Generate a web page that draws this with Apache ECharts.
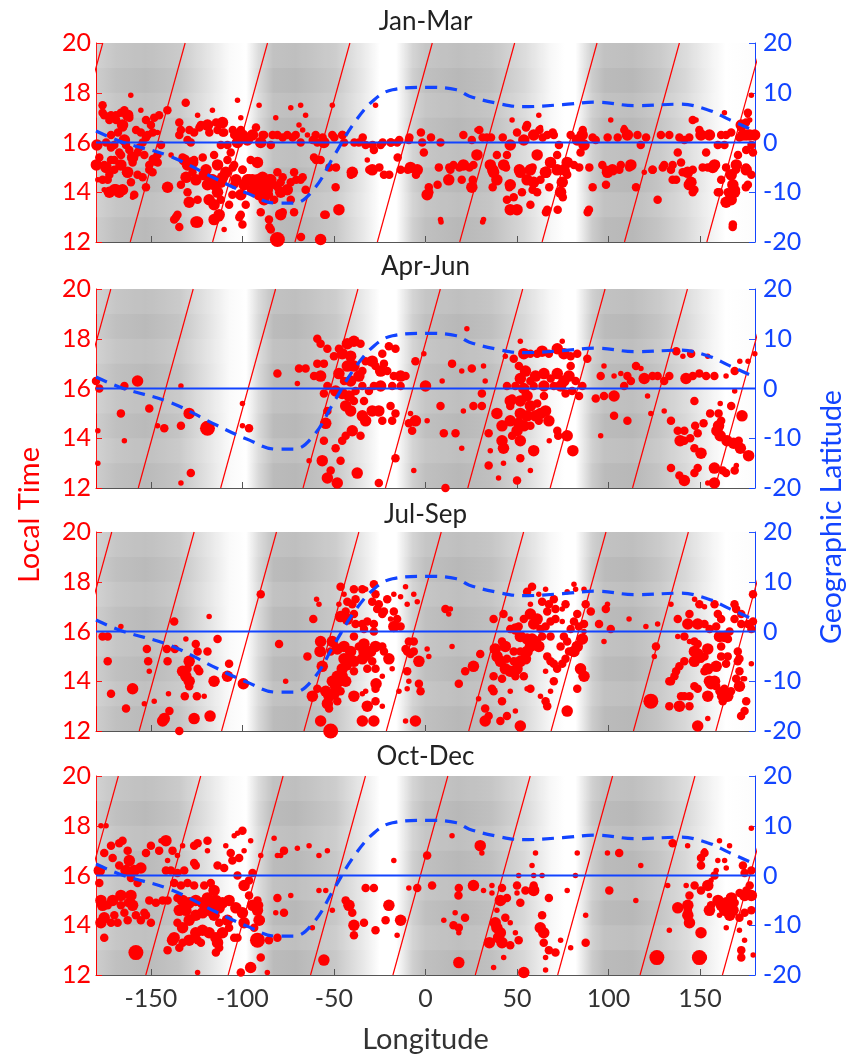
<!DOCTYPE html>
<html>
<head>
<meta charset="utf-8">
<title>Local time vs longitude</title>
<script src="https://cdn.jsdelivr.net/npm/echarts@6/dist/echarts.min.js"></script>
<style>
  html, body { margin: 0; padding: 0; background: #fff; }
  #chart { width: 848px; height: 1057px; }
</style>
</head>
<body>
<div id="chart"></div>
<script>
// ---- data ----
const panelNames = ['Jan-Mar', 'Apr-Jun', 'Jul-Sep', 'Oct-Dec']
const xTicks = [-150, -100, -50, 0, 50, 100, 150]

// magnetic dip equator, geographic latitude vs longitude
const dipLon = [-180, -165, -140, -114, -98, -81, -72, -61, -50, -39, -28, -18, 0, 17, 24, 39, 53, 75, 93, 115, 139, 154, 166, 180]
const dipLat = [2.3, 0, -2.7, -7.4, -10.1, -12.2, -12.2, -9.4, -2.7, 3.9, 8.6, 10.6, 11.1, 10.6, 9.3, 7.9, 7.2, 7.6, 8.1, 7.4, 7.7, 6.6, 4.6, 2.3]
const geoEquator = [[-180, 0], [180, 0]]

// slanted reference lines: longitude where each crosses 12 LT (per panel), spacing and shift at 20 LT
const lineBase = [-161.3, -156.9, -156.4, -152.8]
const lineStep = 45
const lineRise = 30

// background shading (gray level vs longitude)
const bgLon = [-180, -169, -153, -135, -120, -107, -98, -91, -83, -71, -49, -34, -25, -16, -7, 0, 18, 36, 54, 69, 76, 82, 91, 98, 113, 127, 142, 157, 164, 180]
const bgGray = [205, 192, 186, 196, 224, 250, 255, 216, 187, 184, 200, 232, 255, 255, 208, 192, 184, 192, 216, 248, 255, 255, 204, 187, 184, 196, 216, 244, 255, 252]
const hourBands = [[19, 20], [17, 18], [15, 16], [13, 14]]

// events: [longitude, local time, size class]
const janMar = [[-179.5,15.9,3],[-179.8,15.1,3],[-179,14.5,1],[-176.4,17.5,2],[-175.5,17.1,2],[-171.8,17.1,2],[-169,16.9,2],[-166.4,17.2,2],[-164.5,17.3,2],[-161,17.9,1],[-162.7,17.1,3],[-165.5,16.7,3],[-168,16.4,2],[-171.8,16.3,2],[-174.5,16,2],[-170,15.9,2],[-164.5,16.1,3],[-161.8,15.7,2],[-167.3,15.6,2],[-171.8,15.3,2],[-175.5,15.1,2],[-172.7,14.7,2],[-170,14.9,2],[-166.4,15.1,3],[-162.7,14.8,3],[-160,15.2,2],[-157.3,15.6,2],[-154.5,16,2],[-151.8,16.3,2],[-155.5,16.4,2],[-150,16.7,2],[-152.7,16.9,2],[-148.2,17,2],[-145.5,17.1,2],[-141,17.3,2],[-155.5,17.3,1],[-170,14.1,3],[-167.3,14,3],[-165.5,14.1,3],[-175.5,14.1,1],[-159.1,13.9,2],[-173.6,14.5,2],[-153.6,15.5,2],[-150.9,15.1,2],[-148.2,15.3,3],[-146.4,15.5,2],[-149.1,14.8,2],[-144.5,15.9,2],[-146.4,16.4,1],[-160.9,14.4,2],[-157.3,14.7,2],
  [-176.4,17.2,2],[-172.7,16.9,2],[-169.1,17.1,2],[-165.4,16.6,2],[-161.8,17,2],[-158.1,16.5,2],[-178.2,15.4,2],[-174.5,15,3],[-170,15.3,2],[-166.3,15.5,2],[-171.8,15.8,2],[-163.6,15.9,2],[-160,15.4,3],[-156.3,15.8,2],[-152.7,16.2,2],[-149,16.4,2],[-146.3,15.2,2],[-150.9,14.9,2],[-154.5,14.6,2],[-176.4,14.5,2],[-169.1,14.1,3],[-163.6,14.8,2],[-160,13.8,1],[-152.7,14.2,2],[-172.7,14,3],
  [-139,15.5,1],[-140.9,14.2,3],[-135.5,13.1,2],[-134.5,12.6,2],[-137.3,12.9,2],[-131,17.6,2],[-133.6,16.5,2],[-134.5,16.3,2],[-130,16.1,2],[-126.4,16.4,2],[-122.7,16.7,2],[-124.5,17.1,1],[-119.1,16.7,3],[-116.4,17.3,1],[-128.2,16,2],[-131.8,15.3,3],[-130,15.1,3],[-127.3,14.8,2],[-126.4,15.3,2],[-133.6,14.3,2],[-130,14,2],[-129.1,13.6,3],[-124.5,13.7,2],[-124.5,12.8,3],[-119.1,14.3,3],[-120.9,14.7,3],[-117.3,14.5,3],[-115.5,14.3,3],[-113.6,14,3],[-118.2,13.7,3],[-115.5,13.5,3],[-111.8,13.7,2],[-112.7,13.1,3],[-115.5,12.9,3],[-110,12.5,1],[-111.8,14.4,3],[-109.1,14.8,3],[-113.6,15.1,3],[-115.5,15.5,2],[-111.8,15.9,2],[-108.2,15.9,2],[-110,16.4,2],[-113.6,16.5,2],[-110.9,16.8,3],[-104.5,16.3,2],[-102.7,16,3],[-100,16.3,3],[-97.3,16.1,3],[-94.5,16.3,3],[-100.9,16.5,2],[-102.7,17.7,1],[-100.9,17,1],[-106.4,15.6,2],[-104.5,15.1,2],[-108.2,15.3,2],[-104.5,14.3,2],[-105.5,13.9,2],[-107.3,13.5,2],[-100.9,13.9,3],[-99.1,14.3,3],[-97.3,14.5,3],[-94.5,14.5,3],[-91.8,14.5,3],[-90,14.3,3],[-88.2,14.5,3],[-86.4,14.1,3],[-84.5,14.5,3],[-82.7,14.3,2],[-80.9,14.8,2],[-79.1,14.4,2],[-94.5,14.1,3],[-90.9,13.9,3],[-88.2,13.7,3],[-85.5,13.9,2],[-82.7,13.7,2],[-79.1,14,3],[-75.5,14.1,3],[-73.6,14.4,2],[-71.8,14.8,2],[-68.2,14.5,2],[-65.5,14.1,2],[-91.8,15.2,3],[-95.5,15.3,2],[-100,14.9,2],[-100.9,13.1,2],[-100,12.7,2],[-98.2,13.5,2],[-90,13.2,2],[-85.5,12.9,2],[-84.5,12.5,2],[-79.1,13.1,3],[-80.9,12.1,4],[-73.6,13.7,2],[-71.8,13.2,2],[-90.9,17.5,1],[-81.8,17,1],[-80.9,16.3,2],[-88.2,16.3,2],[-90,16,3],[-84.5,15.9,2],[-75.5,16.3,2],[-73.6,17.4,1],[-68.2,17.5,1],[-65.5,17.1,1],[-69.1,16.7,1],[-70.9,16.3,2],[-68.2,16,2],[-64.5,16.3,1],[-60,16.3,2],[-59.1,16,2],[-60.9,15.4,2],[-57.3,15.3,2],[-55.5,16,3],[-57.3,12.1,3],[-54.5,13.1,2],[-50.9,17.5,1],[-50.9,16.3,2],[-45.5,16.3,2],[-44.5,16,2],[-49.1,14.2,2],[-47.3,13.3,3],[-40,14.8,3],[-36.4,16,2],[-32.7,15.9,2],[-31.8,15.3,1],[-29.1,14.9,3],[-27.3,17.5,1],[-28.2,15.7,2],[-24.5,15.9,2],[-22.7,14.7,2],[-19.1,16,2],[-15.5,16,2],[-13.6,14.9,2],[-9.1,16.1,2],[-8.2,15,3],[-4.5,14.9,3],[-1.8,16,2],[-0.9,15.6,2],[1.8,14.2,2],[0.9,13.9,3],[7.3,15,2],[8.2,12.9,1],[8.2,16,2],[12.7,14.5,3],[13.6,14.9,2],
  [-134.5,16.8,2],[-129,16.5,2],[-123.5,16.6,2],[-118.1,16.4,2],[-114.4,16.8,2],[-110.8,16.4,2],[-105.3,16.5,2],[-101.7,16.4,2],[-97.1,16.2,2],[-92.6,16.6,2],[-89,16.3,2],[-83.5,16.3,2],[-78,16.2,2],[-72.6,16.2,2],[-67.1,16.5,1],[-61.6,16.1,2],[-56.2,16.2,2],[-49.8,16.2,2],[-45.3,16.3,2],[-38.9,16,2],[-34.3,16.2,2],[-28.9,15.9,2],[-23.4,16,2],[-18.8,16,2],[-14.3,16.1,2],[-8.8,16.2,2],[-2.5,16.4,2],
  [-132.7,15.4,2],[-127.2,15.2,3],[-121.7,15.4,2],[-119.9,14.9,3],[-130.8,14.6,3],[-125.4,14.5,3],[-116.3,14.5,3],[-110.8,14.6,3],[-105.3,15,2],[-103.5,14.5,3],[-99.9,14.9,2],[-96.2,14.5,3],[-92.6,14.4,3],[-89,14.6,3],[-85.3,14.5,3],[-80.8,14.2,2],[-78,14.6,2],[-70.7,14.5,2],[-67.1,14.6,2],[-59.8,15.3,2],[-52.5,15,2],[-48.9,15,2],[-40.7,14.7,2],[-30.7,14.9,2],[-25.2,15,2],[-19.8,14.7,2],[-15.2,15.4,2],[-9.7,14.9,2],[-5.2,14.7,2],[-136.3,13,2],[-125.4,12.8,3],[-112.6,13,2],[-101.7,13,2],[-85.3,12.6,2],[-78,13.2,2],[-68,12.2,2],[-55.3,13.1,2],
  [19.8,14.5,2],[20.7,16.3,2],[25.3,16.1,2],[28.1,15.5,3],[26.2,15.1,2],[20.7,15.1,3],[15.3,15.1,2],[25.3,14.2,3],[31.7,12.9,1],[28.1,16.5,1],[33.5,16.2,2],[39,15.5,2],[35.4,15.1,3],[37.2,14.8,3],[39,14.5,3],[42.7,15.1,3],[44.5,15.5,2],[46.3,15.9,3],[46.3,14.3,3],[44.5,13.7,2],[47.3,16.9,1],[50,16.4,2],[53.7,16.1,3],[55.5,16.7,2],[59.1,16.3,3],[61,15.5,3],[57.3,14.9,3],[55.5,14.5,3],[59.1,14.4,3],[51.8,14.8,3],[48.2,13.8,2],[46.3,13.3,3],[50,13.3,3],[52.7,14,2],[62.8,14.5,2],[61,14,2],[57.3,13.5,2],[66.5,13.3,2],[65.5,14.8,3],[68.3,15.2,3],[71.9,14.9,3],[71.9,15.5,2],[75.6,14.9,3],[77.4,15.2,3],[74.7,14.4,3],[73.8,14,3],[77.4,14.7,2],[81.1,15.1,2],[84.7,15.6,2],[86.6,15.9,3],[82.9,16.1,3],[79.3,16.3,2],[66.5,16.3,2],[62.8,16.6,1],[61.9,17.1,1],[70.1,16.3,2],[72.9,15.9,2],[85.6,16.3,3],[89.3,13.3,2],[93,16.1,2],[96.6,15.1,2],[101.2,16.9,1],[99.4,14.8,3],[102.1,14.9,3],[106.7,15.1,2],[110.3,16.3,3],[112.2,15.1,3],[108.5,16.6,1],[115.8,16.3,2],[119.5,14.8,1],[117.6,15.9,2],[124,14.9,2],[126.8,13.7,2],[128.6,16.3,2],[133.2,16.3,2],[130.4,15.1,2],[134.1,14.9,2],[137.8,15.6,2],[141.4,16.1,2],[136.9,14.5,2],[143.2,14.8,3],[145,14.4,3],[146.9,14.1,2],[139.6,15.2,2],[147.8,16.9,1],[149.6,16.5,2],[150.5,16.3,3],[155.1,16.3,3],[157.9,15.1,3],[154.2,15,2],[153.3,15.6,2],[159.7,15.9,2],[161.5,16.3,2],[163.3,17.2,1],[163.3,15.9,2],[167,16.4,2],[164.2,16.3,2],[159.7,14,2],[161.5,14.5,2],[167,14.7,3],[167.9,14.3,3],[168.8,14,3],[164.2,13.6,3],[170.7,15.5,2],[169.8,15.1,3],[172.5,16.7,3],[173.4,16.3,3],[175.2,16.3,3],[177.1,16.3,3],[179.8,16.3,3],[178.1,15.9,2],[175.2,15.7,2],[178.9,15.6,2],[176.1,17.2,2],[177.1,16.9,1],[178,17.9,1],[175.2,14.9,3],[178,14.7,2],[176.1,14.3,2],[167.9,12.7,2],[165.1,14,2],[167,13.7,3],
  [3,16.2,2],[31.2,16.2,2],[35.8,16.2,2],[42.2,16.2,2],[64,16.2,2],[91.3,16.2,2],[99.5,16.2,2],[105,16.2,2],[120.5,16.2,2],[138.7,16.2,2],[144.1,16.2,2],[171.5,16.2,2],[29.4,16.5,2],[54.9,16.6,2],[62.2,16.5,2],[69.5,16.4,2],[85.9,16.5,2],[108.6,16.5,2],[146,16.9,2],[172.4,16.6,2],[175.1,16.8,2],[176,17.1,1],
  [13,15,2],[18.5,15,2],[24,15,2],[36.7,14.9,3],[44,15,2],[51.3,14.9,3],[58.5,15,2],[65.8,14.8,3],[76.8,14.8,2],[84,15,2],[89.5,15,2],[98.6,14.9,2],[105.9,14.9,2],[111.3,15,2],[124.1,14.9,2],[129.6,15,2],[135,15.1,2],[140.5,14.8,2],[146,14.9,2],[151.4,15,2],[156.9,15,3],[164.2,15,2],[169.6,14.9,2],[175.1,15,2],
  [2.1,14,2],[6.6,14.3,2],[25.8,14.5,2],[36.7,14.2,2],[45.8,14.2,2],[58.5,14.1,2],[67.6,14.2,2],[75,13.8,2],[91.3,14.2,2],[98.6,14.3,2],[115,14.2,2],[135,14.5,2],[144.1,14.3,3],[146,14,2],[160.5,14,2],[166,13.8,2],[169.6,14.1,2],[175,14.2,2],[49.4,13.3,2],[65.8,13.2,2],[72.2,13.3,2],[88.6,13.2,2],[8.5,12.8,1],[31.2,12.8,1],[167.8,12.6,2]]

const aprJun = [[-180,16.3,2],[-178.2,16,2],[-179,14.3,1],[-179,13,1],[-166.4,15,2],[-164.5,13.9,1],[-164.5,16.1,2],[-157.3,16.3,3],[-150.9,15.2,2],[-146.4,14.5,1],[-142.7,14.4,2],[-133.6,16.1,1],[-133.6,14.5,2],[-129.1,15,3],[-119.1,14.4,4],[-133.6,12.2,1],[-128.2,12.6,2],[-100,15.4,1],[-100,14.5,1],[-96.4,14.4,2],[-80.9,16.6,2],[-70,16.2,1],[-69.1,16.8,2],[-65.5,16.8,2],[-63.6,13.1,1],[-59.1,18,2],[-57.3,17.8,2],[-53.6,17.6,2],[-55.5,17,2],[-59.1,17,2],[-60.9,16.5,2],[-57.3,16.5,3],[-55.5,15.8,2],[-53.6,16.1,2],[-53.6,15.1,2],[-54.5,14.6,3],[-55.5,13.9,2],[-56.4,13.1,3],[-53.6,12.4,3],[-51.8,12.7,2],[-48.2,12.2,3],[-46.4,13.1,2],[-49.1,13.6,2],[-45.5,13.9,2],[-43.6,14.1,2],[-40,14.3,3],[-35.5,14.1,2],[-37.3,12.6,3],[-25.5,12.2,2],[-16.4,13.2,2],[-50,17.3,2],[-47.3,17.6,2],[-45.5,17.4,3],[-42.7,17.8,3],[-39.1,17.9,3],[-35.5,17.8,2],[-40.9,17.3,3],[-42.7,16.9,3],[-39.1,16.9,3],[-47.3,16.6,3],[-44.5,16.3,2],[-40.9,16.3,3],[-36.4,16.5,3],[-34.5,16.7,2],[-49.1,15.9,3],[-45.5,15.8,3],[-41.8,15.7,3],[-38.2,15.9,2],[-34.5,16.1,2],[-30.9,15.9,2],[-43.6,15.3,3],[-40.9,15.1,3],[-39.1,15.5,2],[-33.6,15.5,2],[-34.5,14.9,3],[-32.7,14.7,3],[-29.1,15.1,3],[-25.5,15.1,3],[-23.6,14.7,2],[-19.1,15.3,2],[-18.2,14.7,2],[-16.4,15,2],[-29.1,17.1,3],[-32.7,17.1,2],[-27.3,16.9,2],[-24.5,16.7,3],[-22.7,17,2],[-23.6,17.4,2],[-20,17.7,2],[-16.4,17.6,2],[-20.9,16.7,2],[-17.3,16.5,2],[-13.6,16.5,3],[-10.9,16.5,2],[-18.2,16.1,2],[-13.6,16.1,2],[-28.2,16.1,2],[-24.5,16.1,3],[-8.2,15,1],[-9.1,14.6,2],[-7.3,14.3,2],[-5.5,14.7,3],[-6.4,12.7,1],[-5.5,17.1,2],[-0.9,17.4,1],[0,16.1,3],[0.9,14.7,1],[8.2,15.3,2],[10,14.2,2],[10.9,12,2],[9.1,16.3,1],[14.5,17,2],[16.4,14.2,2],
  [19.8,16.7,1],[25.3,16.8,2],[31.7,16.9,1],[22.6,18.4,1],[20.7,15.1,1],[26.2,15.3,2],[30.8,15.3,2],[19.8,13.6,1],[30.8,15.8,2],[32.6,16.3,1],[34.5,14.2,2],[35.4,13.5,1],[34.5,12.9,2],[39.9,12.4,1],[42.6,13,1],[39,15,3],[41.8,14.5,3],[41.8,13.9,3],[42.6,13.6,3],[46.3,14.7,3],[46.3,15.3,2],[47.3,15.6,2],[44.5,16.1,2],[43.6,17.3,1],[48.2,17.2,2],[51.8,17.9,1],[53.7,17.4,3],[57.3,17.4,2],[61,17.4,2],[63.7,17.5,3],[67.4,17.4,2],[72,17.6,3],[74.7,17.9,1],[75.6,17.4,3],[79.3,17.3,2],[82.9,17.4,2],[88.4,17.2,2],[51,16.9,2],[54.6,16.7,3],[51.8,16.4,3],[57.3,16.3,2],[60.1,16.5,3],[64.7,16.6,3],[68.4,16.4,2],[72,16.6,3],[75.6,16.3,3],[79.3,16.9,2],[78.4,16.5,3],[73.8,16.1,3],[70.1,16.1,2],[64.7,16.1,3],[59.1,16.1,2],[53.7,16,3],[49.1,16.1,2],[46.3,15.5,3],[51.8,15.5,3],[55.5,15.7,3],[57.3,15.3,3],[61,15.4,2],[64.7,15.7,2],[65.6,15.1,3],[62.9,15,3],[60.1,14.9,3],[55.5,14.9,3],[51.8,15,3],[50.9,14.6,3],[50,14.3,3],[53.7,14.5,3],[57.3,14.5,2],[61.9,14.7,2],[67.4,14.7,3],[72,14.3,2],[51.8,13.9,3],[47.3,14.1,2],[59.1,13.5,3],[51.8,13.2,2],[57.3,12.7,1],[50,12.3,2],[67.6,13.9,1],[72.5,14.1,2],[77.4,14.1,3],[80.5,13.5,3],[76.5,15.8,2],[80.1,15.9,2],[82,16.3,2],[85.7,16.1,2],[83.9,15.7,2],[93,15.6,2],[97.5,15.7,2],[103,15.7,3],[95.7,16.5,2],[97.5,16.9,1],[103,16.5,1],[106.7,16.6,1],[110.3,16.5,2],[108.5,16.1,2],[112.2,16.3,2],[117.7,16.8,1],[119.5,16.4,3],[124,16.5,2],[126.8,16.5,2],[130.4,16.3,2],[133.2,16.5,2],[142.3,16.4,3],[146,16.5,2],[149.6,16.6,2],[153.3,16.5,2],[157.8,16.5,2],[164.2,16.5,1],[168.9,16.7,2],[171.7,17.1,1],[176.2,17.1,1],[179.9,17.4,1],[103,14.9,2],[110.3,14.7,2],[95.7,14.1,1],[121.3,15.7,1],[123.1,15,1],[130.4,15.1,1],[115,16.9,2],[137,17.5,2],[140.6,17.3,1],[145.1,17.4,2],[154.2,17.3,1],[168.9,15.9,1],[146.9,15.5,2],[134.1,14.7,2],[137.8,14.3,2],[141.4,14.3,2],[139.1,13.9,3],[144.6,14,2],[147.3,14.5,2],[151.9,14.6,2],[155.5,15,2],[160.1,15,2],[161,15.4,1],[160.1,14.5,3],[159.2,14.3,3],[161,14.1,3],[164.7,13.9,3],[168.3,13.8,3],[172,13.6,3],[171.1,13.9,2],[172.9,14.9,3],[176.5,13.3,3],[146.9,13.6,2],[150.5,13.4,3],[148.7,14.2,2],[141.4,13.9,2],[134.1,12.8,2],[138.7,12.5,2],[141.4,12.3,3],[146.9,12.6,2],[148.7,12.8,2],[157.8,12.8,3],[157.8,12.2,3],[162.4,12.7,2],[164.2,12.6,2],[168.9,12.7,2],[169.8,12.9,1],[154.2,12.2,1],[167,15.3,2],[161.5,14.7,2]]

const julSep = [[-176.4,15.8,2],[-173.6,15.8,2],[-173.6,14.8,2],[-171.8,13.5,2],[-166.4,16.2,1],[-163.6,12.9,2],[-160,13.7,3],[-153.6,13.1,1],[-148.2,13.2,1],[-152.2,15.3,2],[-151.5,14.8,2],[-150.9,14.4,1],[-141.3,15.3,2],[-140.9,14.8,2],[-142.7,12.5,3],[-143.6,12.4,3],[-139.9,12.8,2],[-140.4,13.5,1],[-137.3,16.4,2],[-136.9,15.3,2],[-134.5,12,2],[-130.9,15.7,1],[-131.5,13.4,2],[-129.1,14.8,3],[-130,14.5,2],[-132.7,14.4,3],[-130.9,14.2,3],[-129.1,14,3],[-129.1,13.8,2],[-125.5,15.5,2],[-124.5,15.2,2],[-124.5,14.5,2],[-123.6,14.4,2],[-124.9,13.4,2],[-120.9,13.4,1],[-126.4,12.5,3],[-118.2,16.6,1],[-119.1,15.2,2],[-113.6,15.7,2],[-115.5,14,3],[-117.7,12.6,3],[-107.3,14.7,2],[-108.2,14.2,3],[-99.5,13.9,3],[-90,17.5,2],[-80,15.5,2],[-76.4,14,1],[-64.5,15,2],[-61.3,16.5,2],[-59.5,17.3,1],[-58.2,17.1,1],[-57.3,15.6,3],[-57.6,15.2,3],[-56.4,14.6,3],[-61.8,13.4,3],[-59.1,13.7,2],[-54.5,13.6,3],[-52.7,13.4,3],[-53.6,13.1,3],[-52.7,12.9,2],[-57.3,12.4,3],[-51.8,12,4],[-50.9,14,3],[-49.1,13.8,3],[-47.3,14,3],[-45.5,14.2,3],[-43.6,14,3],[-48.2,14.2,3],[-50,13.5,3],[-46.4,13.6,2],[-48.2,13.2,2],[-50.9,15.6,3],[-51.8,15.2,2],[-48.2,15.3,3],[-44.5,15.4,3],[-44.5,14.9,3],[-41.8,14.9,3],[-40.9,15.2,3],[-39.1,14.8,3],[-42.7,14.6,2],[-45.5,14.5,3],[-39.1,14.4,2],[-34.5,14.9,3],[-33.6,15.2,3],[-36.4,15.4,2],[-33.6,15.5,3],[-31.8,15,2],[-30,15.2,3],[-27.3,15.4,3],[-29.1,14.8,2],[-27.3,14.5,2],[-31.8,14.5,2],[-39.1,15.8,2],[-33.6,16.1,2],[-28.2,16,2],[-23.6,15.4,2],[-20,14.9,3],[-18.2,14.5,1],[-22.7,15.2,2],[-39.1,13.4,3],[-32.7,13.6,1],[-31.8,13,3],[-27.3,13.2,2],[-23.6,13,1],[-27,13.9,3],[-27.3,13.7,2],[-23.6,14.2,1],[-34.5,12.4,3],[-28.2,12.4,3],[-34.5,13.5,1],[-47.3,17.1,1],[-46.4,17.8,2],[-44.5,17.5,1],[-42.7,17.2,2],[-43.6,16.8,2],[-46.4,16.6,3],[-42.7,16.5,3],[-39.1,16.7,2],[-40,17.1,2],[-38.2,17.3,2],[-34.5,17.7,2],[-32.7,17.7,1],[-39.1,17.7,2],[-28.2,17.9,2],[-27.3,17.5,2],[-29.1,17.2,2],[-25.5,17.1,2],[-26.4,16.9,2],[-22.7,16.8,2],[-23.6,16.7,2],[-20.9,17.3,2],[-17.3,17.5,1],[-17.3,16.8,2],[-13.6,17.4,1],[-10,17.1,1],[-10.9,17.8,1],[-6.4,17.5,1],[-4.5,17.2,1],[-15.5,16.5,2],[-17.3,16.2,3],[-13.6,16.2,2],[-19.1,16.5,1],[-31.8,16.4,2],[-34.5,16.3,2],[-38.2,16.3,2],[-28.2,16.3,2],[-9.1,15.6,2],[-10,15.2,2],[-10.9,15.3,2],[-6.4,15.6,2],[-6.4,15.2,2],[-8.2,15.1,2],[-3.6,14.8,3],[-10,14.4,2],[-9.1,14,1],[-10,13.7,1],[-3.6,13.9,2],[-2.7,13.6,2],[-14.5,13.6,1],[-10.9,12.4,1],[-5.5,12.4,3],[0.9,15.3,1],[1.8,15,1],[10.9,16.9,2],[13.6,16.9,1],[12.7,16.7,1],[14.5,15.4,1],[18.2,13.9,2],
  [21.7,14.4,2],[26.2,14.6,3],[29,13.3,1],[29.9,15.1,2],[32.6,12.9,2],[32.6,12.4,3],[34.5,12.6,2],[36.3,13.7,2],[37.2,13.6,2],[37.2,14.2,2],[38.1,15.3,3],[37.2,16.5,2],[41.8,13.2,2],[40.9,12.4,2],[44.5,12.6,2],[46.3,13.6,1],[49.1,12.8,1],[51.8,12.2,3],[42.6,16.7,2],[46.3,16.5,1],[41.8,15.6,2],[43.6,15.4,3],[39.1,15,3],[40.9,14.8,3],[43.6,14.5,3],[41.8,14.1,2],[46.3,14.4,3],[50,14.5,3],[51.8,14.8,3],[54.6,14.9,3],[55.5,15.2,3],[57.3,15.4,3],[60.1,15.6,3],[61.9,15.4,3],[58.2,15.7,3],[55.5,15.7,3],[51.8,15.8,3],[49.1,16.1,3],[46.3,16.1,2],[50.9,16.2,2],[53.7,16.5,2],[57.3,16.7,3],[61,16.5,3],[59.1,16.3,3],[62.8,16.1,2],[63.7,15.8,2],[51.8,15.2,2],[48.2,15.2,2],[48.2,14.8,2],[44.5,14.9,2],[53.7,14.2,2],[49.1,14.2,2],[55.5,13.7,1],[57.3,13.7,2],[62.8,13.4,1],[65.6,13.2,2],[66.5,13,2],[57.3,17.1,1],[58.2,17.8,2],[55.5,17.6,2],[61.9,17.5,1],[63.7,17.2,2],[65.6,17.7,1],[67.4,17.1,2],[70.1,17.3,2],[71,16.9,2],[66.5,16.8,2],[74.7,16.9,1],[76.5,17.1,2],[77.4,17.6,1],[71,16.5,2],[74.7,16.4,1],[68.3,16.4,2],[65.6,16.2,2],[68.3,15.8,2],[75.6,15.8,2],[73.8,15.4,2],[77.4,15.6,2],[79.3,16.1,2],[82.9,16.7,2],[81.1,16.4,2],[86.6,16.3,2],[83.8,16.2,2],[86.6,16,1],[85.7,15.7,3],[82.9,15.4,3],[81.1,15.2,3],[78.4,15.2,2],[76.5,14.9,2],[74.7,14.7,2],[71.9,14.5,2],[70.1,14.7,2],[68.3,14.8,2],[66.5,15,2],[65.6,14.4,1],[70.1,14,2],[68.3,13.6,1],[84.7,14.5,3],[86.6,14.2,3],[82.9,13.7,2],[77.4,12.8,3],[81.1,17.9,1],[82,17.7,1],[86.6,17.7,1],[90.3,16.8,2],[87.5,17.1,2],[94.8,16.3,2],[98.5,16.9,2],[99.4,17.1,1],[101.2,16.1,2],[97.5,15.6,1],[111.2,16.5,1],[120.4,16.2,1],[126.8,16.3,1],[125.9,15.4,2],[125,15,1],[134.1,17.1,1],[137.8,16.5,2],[137.8,15.8,1],[141.4,15.8,2],[144.2,15.6,1],[143.3,16.3,3],[148.7,16.3,3],[144.2,16.7,2],[147,17.3,1],[149.6,17.1,2],[152.4,17,1],[157.9,17.1,2],[159.7,16.7,2],[161.5,16.5,2],[158.8,16.2,2],[155.2,16.1,2],[152.4,16.3,2],[168.8,17.1,2],[169.7,16.9,2],[168.8,16.5,2],[172.5,16.7,2],[172.5,16.3,2],[176.1,16.3,2],[178.9,17.5,2],[178,16.1,2],[160.6,15.8,3],[163.4,15.8,3],[165.2,15.7,2],[161.5,15.4,2],[166.1,16,2],[146.9,15.6,2],[148.7,15.5,2],[146.9,15.2,3],[148.7,15.1,3],[146.9,14.8,3],[150.5,14.9,2],[154.2,15.3,3],[152.4,15,2],[141.4,14.8,2],[138.7,14.6,2],[136.9,14.4,2],[136,14.2,2],[134.1,14,2],[133.2,14,2],[152.4,14.4,2],[155.1,14,3],[156,13.9,3],[154.2,14.5,3],[158.8,14.6,3],[161.5,15,2],[164.2,14.7,2],[165.1,15,2],[170.6,15.2,2],[171.5,14.9,2],[170.6,14.8,2],[171.5,14.4,2],[169.7,14.1,2],[173.4,14.1,1],[171.5,13.8,3],[166.9,13.6,2],[164.2,13.5,3],[165.1,13.4,3],[161.5,13.4,2],[162.4,13.2,2],[163.3,13.7,2],[160.6,13.6,2],[158.8,13.8,2],[157.9,14,3],[154.2,13.4,3],[148.7,13.7,2],[146.9,13.8,2],[144.2,13.4,2],[141.4,13.4,2],[139.6,13.4,2],[144.2,13,2],[138.7,13,3],[133.2,13,2],[123.1,13.2,4],[148.7,12.2,3],[154.2,12.5,1],[175.2,13.2,2],[174.3,12.8,2],[172.4,12.6,2],[174.3,14.1,1],[178,14.7,1],[178.9,16.4,2]]

const octDec = [[-178.2,16.2,3],[-178.2,15.7,2],[-177.3,18,1],[-174.5,18,1],[-175.5,16.9,2],[-171.8,17.2,2],[-170.9,16.7,2],[-167.3,17.3,2],[-165.5,17.4,2],[-162.7,17,2],[-161.8,16.6,3],[-159.1,16.2,3],[-160.9,15.9,2],[-157.3,15.7,2],[-155.5,16.3,3],[-163.6,16.2,3],[-167.3,16.4,2],[-177.3,15,3],[-176.4,14.8,3],[-170.9,15,3],[-173.6,14.8,2],[-166.4,14.8,2],[-162.7,14.9,2],[-160,14.8,3],[-158.2,14.4,2],[-164.5,14.5,2],[-170,14.4,2],[-175.5,14.3,3],[-177.3,14.1,3],[-171.8,14.1,2],[-168.2,14.1,2],[-162.7,14.2,2],[-155.5,14.2,2],[-160.9,15.2,3],[-166.4,15.2,3],[-175.5,13.5,2],[-158.2,12.9,4],[-153.6,14.5,2],[-150.9,15,2],[-147.3,14.9,2],[-143.6,15,2],[-140.9,15,2],[-150,14.1,2],[-152.7,14.4,2],[-152.7,16.9,2],[-150,17.2,2],[-145.5,17,2],[-141.8,17.4,3],[-138.2,17,2],[-144.5,17.4,1],[-140.9,16.6,1],[-135.5,16.8,1],[-132.7,17.2,1],[-126.4,17.2,2],[-124.5,17.3,2],[-119.1,17.4,2],[-119.1,17,1],[-126.4,16.5,2],[-125.5,16.4,2],[-131.8,16.2,2],[-135.5,16.1,2],[-139.1,16.2,2],[-141.8,16.2,2],[-137.3,15.7,2],[-133.6,15.6,2],[-130,15.7,2],[-126.4,15.6,2],[-120.9,15.6,2],[-117.3,15.7,2],[-115.5,15.4,3],[-110,16.3,2],[-109.1,17.2,1],[-104.5,17.6,1],[-102.7,17.7,1],[-100,17.8,2],[-95.5,17.4,1],[-99.1,17,1],[-106.4,16.9,2],[-101.8,16.7,2],[-105.5,16.6,2],[-113.6,16.4,2],[-102.7,16,2],[-94.5,16.1,2],[-90,16.8,1],[-82.7,17.5,1],[-96.4,15.8,2],[-99.1,15.6,3],[-96.4,15.2,2],[-91.8,15,2],[-90.9,14.8,2],[-94.5,14.8,3],[-91.8,14.6,3],[-90,14.2,2],[-93.6,13.9,2],[-90.9,14.2,3],[-99.1,14.1,3],[-102.7,13.5,2],[-100,14.5,3],[-103.6,14.7,3],[-107.3,15,3],[-110.9,14.9,3],[-112.7,14.7,3],[-114.5,15,3],[-116.4,14.8,3],[-119.1,15.1,3],[-121.8,14.9,3],[-125.5,15,3],[-129.1,14.9,3],[-130.9,14.6,3],[-132.7,15,3],[-135.5,15.1,2],[-134.5,14.6,3],[-135.5,14.1,2],[-132.7,13.9,3],[-129.1,14.2,3],[-125.5,14.4,3],[-121.8,14.5,3],[-118.2,14.6,3],[-115.5,14.4,3],[-112.7,14.1,2],[-108.2,14.2,3],[-107.3,13.9,2],[-110.9,13.7,3],[-114.5,13.5,3],[-118.2,13.7,3],[-121.8,13.8,3],[-125.5,13.7,3],[-129.1,13.4,3],[-132.7,13.3,2],[-138.2,13.4,3],[-137.3,13.5,3],[-140.9,13,2],[-134.5,13.1,2],[-124.5,13.4,2],[-122.7,13.3,2],[-113.6,13.3,3],[-112.7,13.1,2],[-114.5,12.9,2],[-104.5,13.5,2],[-100.9,12.1,2],[-95.5,12.3,3],[-90,12.7,2],[-91.8,13.4,4],[-86.4,12.1,1],[-124.5,12.1,1],[-85.5,13.4,2],[-80.9,13.5,2],[-80.9,15.1,2],[-81.8,14.5,1],[-77.3,14.5,2],[-73.6,15.2,1],[-80.9,16.8,1],[-79.1,16.8,1],[-77.3,17,2],[-70,17.1,1],[-63.6,17.2,1],[-58.2,16.8,1],[-53.6,17,1],[-58.2,15.4,1],[-54.5,15.4,1],[-50.9,14.6,1],[-55.5,12.6,3],[-61.8,13.9,1],[-43.6,15,2],[-41.8,14.8,3],[-40,14.5,2],[-39.1,14,3],[-39.1,13.6,2],[-33.6,14.1,2],[-32.7,15.5,2],[-28.2,15.5,2],[-27.3,13.8,2],[-21.8,14.2,2],[-20,14.8,3],[-17.3,16.6,1],[-13.6,14.2,3],[-15.5,13.6,1],[-9.1,15.5,1],[-4.5,15.5,2],[0.9,16.8,2],[3.6,15.6,2],[10,14.2,1],[14.5,17.6,1],[18.2,15.5,2],[18.2,13.9,2],[18.2,13.7,1],[18.2,12.5,3],[15.3,14,2],[16.2,14.5,1],[18,15.2,2],
  [26.2,15.6,3],[29.9,17.2,3],[30.8,16.9,1],[31.7,15.4,1],[36.3,15.6,1],[36.3,15.3,1],[39,14.6,1],[41.8,15.5,2],[41.8,15,2],[44.5,15.1,2],[40.9,15,3],[50,15.6,2],[50,15.3,1],[54.6,15.4,2],[59.1,15.4,3],[59.1,15.6,2],[59.1,16,1],[58.2,16.4,1],[60.1,16.9,1],[51.8,14.9,2],[50.9,16,1],[63.7,16,1],[67.4,15.1,2],[21.6,14.3,2],[38.1,14.1,3],[39,13.9,3],[40.9,13.7,3],[39.9,13.5,3],[41.8,13.3,3],[43.6,14.3,2],[46.3,14.1,1],[49.1,13.7,1],[50.9,13.4,2],[46.3,13.2,2],[34.9,13.3,3],[42.7,12.7,1],[37.2,12.3,1],[53.7,12.1,3],[63.7,14.4,2],[62.7,13.9,3],[64.6,13.7,3],[64.6,13.3,2],[67.4,13,2],[65.6,12.7,1],[65.6,12.2,1],[71,12.9,2],[73.8,13.4,1],[79.3,13.1,1],[87.5,14.4,1],[87.5,13.3,2],[77.4,15.4,1],[82.9,16.9,1],[81.9,16,1],[99.4,16.9,1],[105.8,16.9,2],[100.4,15.4,2],[114.9,15,1],[117.6,16.4,1],[126.4,12.7,4],[133.2,13.8,1],[132.3,15.6,1],[135,17.3,2],[143.2,17.2,1],[149.6,12.7,4],[151.5,12.7,2],[137.8,14.7,3],[142.4,15.6,1],[144.2,15.2,2],[143.3,14.8,3],[143.3,14.4,3],[144.2,14.1,3],[143.3,14.6,2],[147,15.6,2],[150.5,15.4,2],[154.2,15.6,3],[155.1,15.2,1],[150.5,13.7,3],[156,14.8,2],[155.1,14.6,3],[159.8,15,3],[161.6,14.8,3],[163.4,14.6,3],[166.2,14.4,3],[168,14.6,3],[167.1,15.1,3],[164.3,14.9,3],[168.9,14.9,2],[171.6,15.3,2],[174.4,15.2,3],[178,15.2,3],[177.1,15.6,2],[175.3,15.4,2],[173.4,16.4,2],[174.3,16.1,2],[178,16.2,2],[178,17.9,1],[150.5,16.4,2],[150.5,16.7,2],[152.4,16.9,2],[152.4,17,1],[160.6,17.4,1],[166.1,17.2,1],[163.4,16.6,1],[159.7,16.6,1],[158.8,16.2,1],[164.3,16.3,1],[156,15.8,1],[157.9,16,2],[171.5,13.8,1],[174.3,13.4,1],[172.5,13,2],[172.5,12.7,2],[179,12.8,1],[171.5,14.3,2],[174.3,14.5,2],[178,14.6,2],[177.1,14.1,1],[160.6,14.4,1],[164.3,13.9,1]]

const panelData = [janMar, aprJun, julSep, octDec]

// ---- style ----
const RED = '#ff0000'
const BLUE = '#1244ff'
const FONT = 'Lato, "Open Sans", sans-serif'
const dotSize = [0, 5.5, 8.5, 11.5, 15]
const gridTops = [43, 289, 532, 776]
const titleY = [22, 267, 515, 757]

const chart = echarts.init(document.getElementById('chart'), null, { renderer: 'canvas' })

// 背景灰度条纹
const bgStops = bgLon.map((lon, i) => ({
  offset: (lon + 180) / 360,
  color: `rgb(${bgGray[i]},${bgGray[i]},${bgGray[i]})`
}))

const grids = [], xAxes = [], yAxes = [], series = []

panelData.forEach((pts, k) => {
  grids.push({
    left: 96, width: 659, top: gridTops[k], height: 199,
    show: true, borderWidth: 0,
    backgroundColor: new echarts.graphic.LinearGradient(0, 0, 1, 0, bgStops)
  })
  xAxes.push({
    gridIndex: k, type: 'value', min: -180, max: 180,
    axisLine: { show: true, onZero: false, lineStyle: { color: '#555', width: 1 } },
    axisTick: { show: true, inside: true, length: 6, customValues: xTicks, lineStyle: { color: '#555' } },
    axisLabel: { show: k === 3, customValues: xTicks, color: '#333', fontSize: 25, fontFamily: FONT, margin: 11 },
    splitLine: { show: false }
  })
  yAxes.push({
    gridIndex: k, type: 'value', position: 'left', min: 12, max: 20, interval: 2,
    axisLine: { show: true, onZero: false, lineStyle: { color: RED, width: 1 } },
    axisTick: { show: true, inside: true, length: 6, lineStyle: { color: RED } },
    axisLabel: { color: RED, fontSize: 25, fontFamily: FONT, margin: 5 },
    splitLine: { show: false }
  })
  yAxes.push({
    gridIndex: k, type: 'value', position: 'right', min: -20, max: 20, interval: 10,
    axisLine: { show: true, onZero: false, lineStyle: { color: BLUE, width: 1 } },
    axisTick: { show: true, inside: true, length: 6, lineStyle: { color: BLUE } },
    axisLabel: { color: BLUE, fontSize: 25, fontFamily: FONT, margin: 8 },
    splitLine: { show: false }
  })

  const yl = 2 * k, yr = 2 * k + 1

  // faint hourly banding
  series.push({
    type: 'line', xAxisIndex: k, yAxisIndex: yl, data: [], silent: true,
    markArea: {
      silent: true,
      itemStyle: { color: 'rgba(255,255,255,0.10)' },
      data: hourBands.map(b => [{ yAxis: b[0] }, { yAxis: b[1] }])
    }
  })

  // slanted red lines
  for (let j = -1; j <= 8; j++) {
    const b = lineBase[k] + lineStep * j
    series.push({
      type: 'line', xAxisIndex: k, yAxisIndex: yl, silent: true,
      symbol: 'none', clip: true,
      lineStyle: { color: RED, width: 1.2 },
      data: [[b, 12], [b + lineRise, 20]]
    })
  }

  // events
  series.push({
    type: 'scatter', xAxisIndex: k, yAxisIndex: yl, clip: false,
    data: pts,
    symbolSize: d => dotSize[d[2]],
    itemStyle: { color: RED, opacity: 1 }
  })

  // dip equator (dashed) and geographic equator
  series.push({
    type: 'line', xAxisIndex: k, yAxisIndex: yr, symbol: 'none', smooth: 0.4,
    data: dipLon.map((lon, i) => [lon, dipLat[i]]),
    lineStyle: { color: BLUE, width: 3.2, type: [12, 8] }
  })
  series.push({
    type: 'line', xAxisIndex: k, yAxisIndex: yr, symbol: 'none',
    data: geoEquator,
    lineStyle: { color: BLUE, width: 2 }
  })
})

const txt = (text, x, y, color, size, rotation) => ({
  type: 'text', x, y, rotation: rotation || 0, silent: true,
  style: {
    text, fill: color, fontSize: size, fontFamily: FONT,
    align: 'center', verticalAlign: 'middle',
    textAlign: 'center', textVerticalAlign: 'middle'
  }
})

const graphics = panelNames.map((n, k) => txt(n, 425.5, titleY[k], '#222', 26))
graphics.push(txt('Longitude', 425.5, 1040, '#333', 29))
graphics.push(txt('Local Time', 30, 515, RED, 29, Math.PI / 2))
graphics.push(txt('Geographic Latitude', 832, 517, BLUE, 28.5, Math.PI / 2))

chart.setOption({
  animation: false,
  backgroundColor: '#fff',
  grid: grids,
  xAxis: xAxes,
  yAxis: yAxes,
  series,
  graphic: { elements: graphics }
})
</script>
</body>
</html>
